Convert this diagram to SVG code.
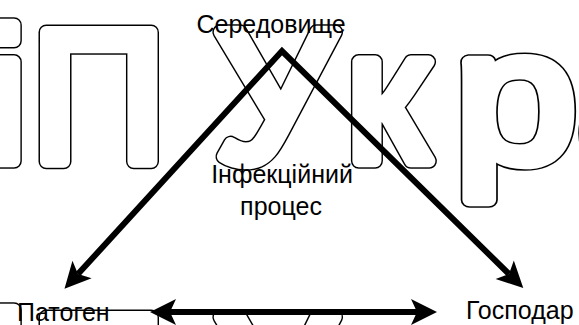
<svg xmlns="http://www.w3.org/2000/svg" xmlns:xlink="http://www.w3.org/1999/xlink" width="579" height="325" viewBox="0 0 579 325">
<style>
.wm{font-family:"Liberation Sans",Arial,sans-serif;font-size:188px;stroke-linejoin:round}
.ring{fill:#000;stroke:#000;stroke-width:15.5}
.inner{fill:#fff;stroke:#fff;stroke-width:12.5}
.lbl{font-family:"Liberation Sans",Arial,sans-serif;font-size:25px;fill:#000}
.conn{fill:none;stroke:#000;stroke-width:6;stroke-linejoin:miter;stroke-miterlimit:10}
</style>
<defs>
<g id="wmrow">
<text class="wm" y="161"><tspan x="-15">і</tspan><tspan x="31">П</tspan><tspan x="215">У</tspan><tspan x="346">к</tspan></text>
<text class="wm" transform="translate(455,161) scale(1.16,1)">р</text>
<text class="wm" x="578" y="161">а</text>
</g>
<marker id="ah" markerUnits="userSpaceOnUse" markerWidth="40" markerHeight="40" refX="0" refY="0" orient="auto-start-reverse" overflow="visible">
<path d="M20,0 L-6,-13 L0,0 L-6,13 Z" fill="#000"/>
</marker>
</defs>
<rect width="579" height="325" fill="#fff"/>
<g id="watermark">
<use xlink:href="#wmrow" class="ring"/>
<use xlink:href="#wmrow" class="inner"/>
<use xlink:href="#wmrow" class="ring" transform="translate(0,285)"/>
<use xlink:href="#wmrow" class="inner" transform="translate(0,285)"/>
</g>
<g id="connectors">
<path class="conn" d="M78,274 L282,51 L509,274" marker-start="url(#ah)" marker-end="url(#ah)"/>
<path class="conn" d="M170,312 L417,312" marker-start="url(#ah)" marker-end="url(#ah)"/>
</g>
<g id="node-environment"><text class="lbl" x="271" y="33" text-anchor="middle">Середовище</text></g>
<g id="node-process"><text class="lbl" x="282" y="183" text-anchor="middle">Інфекційний</text><text class="lbl" x="281" y="215" text-anchor="middle">процес</text></g>
<g id="node-pathogen"><text class="lbl" x="17" y="321">Патоген</text></g>
<g id="node-host"><text class="lbl" x="466" y="319">Господар</text></g>
</svg>
